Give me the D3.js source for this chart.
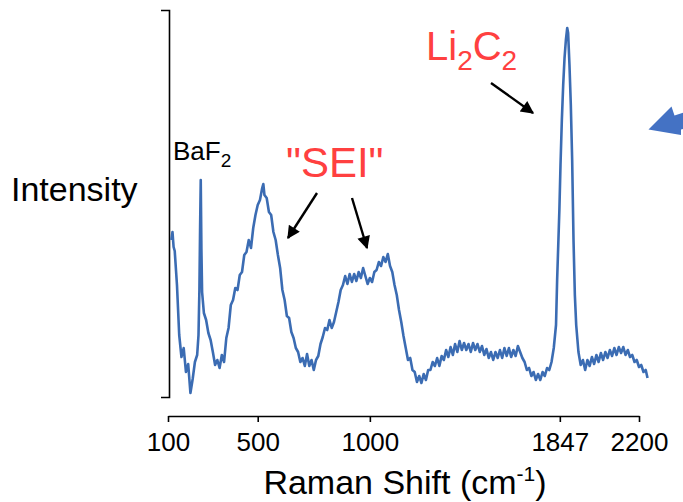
<!DOCTYPE html>
<html>
<head>
<meta charset="utf-8">
<script src="https://cdn.jsdelivr.net/npm/d3@7"></script>
<style>
  html, body { margin: 0; padding: 0; background: #fff; }
  svg { display: block; font-family: "Liberation Sans", Arial, sans-serif; }
</style>
</head>
<body>
<div id="chart"></div>
<script>
// Raman spectrum (arbitrary intensity units)
const ramanShift = [
  115, 120, 125, 130, 140, 150, 160, 170, 180, 190, 200, 210, 220, 230, 236, 240, 243, 246, 249, 252,
  260, 270, 280, 290, 300, 310, 320, 330, 340, 350, 360, 370, 380, 390, 400, 410, 420, 430, 440, 450,
  460, 470, 480, 490, 500, 510, 520, 525, 530, 540, 550, 560, 570, 580, 590, 600, 610, 620, 630, 640,
  650, 660, 670, 680, 690, 700, 710, 720, 730, 740, 750, 760, 770, 780, 790, 800, 810, 820, 830, 840,
  850, 860, 870, 880, 890, 900, 910, 920, 930, 940, 950, 960, 970, 980, 990, 1000, 1010, 1020, 1030, 1040,
  1050, 1060, 1070, 1080, 1090, 1100, 1110, 1120, 1130, 1140, 1150, 1160, 1170, 1180, 1190, 1200, 1210, 1220, 1230, 1240,
  1250, 1260, 1270, 1280, 1290, 1300, 1310, 1320, 1330, 1340, 1350, 1360, 1370, 1380, 1390, 1400, 1410, 1420, 1430, 1440,
  1450, 1460, 1470, 1480, 1490, 1500, 1510, 1520, 1530, 1540, 1550, 1560, 1570, 1580, 1590, 1600, 1610, 1620, 1630, 1640,
  1650, 1660, 1670, 1680, 1690, 1700, 1710, 1720, 1730, 1740, 1750, 1760, 1770, 1780, 1790, 1800, 1810, 1820, 1830, 1835,
  1840, 1845, 1850, 1856, 1862, 1868, 1874, 1880, 1884, 1890, 1896, 1902, 1908, 1914, 1920, 1930, 1940, 1950, 1960, 1970,
  1980, 1990, 2000, 2010, 2020, 2030, 2040, 2050, 2060, 2070, 2080, 2090, 2100, 2110, 2120, 2130, 2140, 2150, 2160, 2170,
  2180, 2190, 2200, 2210, 2220, 2230, 2238
];
const intensity = [
  157, 165, 150, 146, 112, 62, 40, 49, 25, 33, 4, 18, 35, 42, 62, 107, 167, 217, 147, 105,
  84, 77, 64, 57, 45, 32, 37, 29, 42, 35, 59, 69, 92, 97, 109, 107, 122, 125, 142, 145,
  157, 149, 169, 182, 192, 197, 209, 213, 202, 199, 185, 182, 165, 157, 142, 129, 107, 97, 81, 79,
  65, 59, 49, 45, 35, 39, 31, 43, 31, 37, 27, 37, 41, 53, 60, 69, 67, 77, 69, 75,
  85, 95, 107, 112, 121, 113, 123, 115, 123, 116, 125, 119, 129, 121, 113, 119, 115, 125, 127, 135,
  131, 140, 135, 143, 131, 125, 112, 102, 87, 75, 61, 49, 37, 39, 27, 25, 15, 21, 14, 23,
  17, 27, 27, 35, 31, 39, 31, 41, 37, 47, 40, 50, 42, 53, 45, 56, 47, 54, 47, 53,
  45, 54, 47, 53, 45, 51, 42, 48, 39, 45, 37, 45, 39, 47, 39, 49, 41, 49, 40, 47,
  41, 51, 45, 39, 35, 27, 29, 21, 25, 17, 23, 17, 25, 21, 29, 27, 35, 49, 72, 117,
  152, 187, 232, 277, 312, 339, 357, 369, 364, 332, 292, 237, 157, 102, 72, 45, 32, 37, 27, 37,
  31, 40, 33, 42, 35, 44, 37, 45, 39, 47, 41, 49, 42, 50, 44, 50, 42, 47, 40, 42,
  35, 37, 30, 32, 25, 27, 19
];
const xTicks = [100, 500, 1000, 1847, 2200];
const xDomain = [100, 2200];
const yDomain = [0, 387];

const width = 683, height = 502;
const lineColor = "#3b6cb3";
const labelRed = "#ff4040";

const svg = d3.select("#chart").append("svg")
  .attr("width", width)
  .attr("height", height);

const defs = svg.append("defs");
defs.append("marker")
  .attr("id", "head")
  .attr("viewBox", "0 0 10 10")
  .attr("refX", 9)
  .attr("refY", 5)
  .attr("markerUnits", "userSpaceOnUse")
  .attr("markerWidth", 15)
  .attr("markerHeight", 13)
  .attr("orient", "auto")
  .append("path")
  .attr("d", "M0,0L10,5L0,10Z")
  .attr("fill", "#000");

const x = d3.scaleLinear().domain(xDomain).range([168, 639]);
const y = d3.scaleLinear().domain(yDomain).range([397, 10]);

// x axis
const xAxis = svg.append("g")
  .attr("transform", "translate(0,416)")
  .call(d3.axisBottom(x).tickValues(xTicks).tickFormat(d3.format("d")).tickSize(6).tickSizeOuter(0));
xAxis.select(".domain").attr("stroke", "#000").attr("stroke-width", 1.6);
xAxis.selectAll(".tick line").attr("stroke", "#000").attr("stroke-width", 1.6);
xAxis.selectAll(".tick text")
  .attr("y", 0).attr("dy", 35)
  .attr("fill", "#000")
  .style("font-size", "26px")
  .style("font-family", "Liberation Sans, Arial, sans-serif");

// y axis: bare bracket, no ticks
const yAxis = svg.append("g")
  .attr("transform", "translate(169,0)")
  .call(d3.axisLeft(y).tickValues([]).tickSizeOuter(8));
yAxis.select(".domain").attr("stroke", "#000").attr("stroke-width", 1.6);

// spectrum
const pts = ramanShift.map((s, i) => [s, intensity[i]]);
const line = d3.line().x(d => x(d[0])).y(d => y(d[1]));
svg.append("path")
  .datum(pts)
  .attr("d", line)
  .attr("fill", "none")
  .attr("stroke", lineColor)
  .attr("stroke-width", 2.6)
  .attr("stroke-linejoin", "round");

// axis titles
svg.append("text")
  .attr("x", 11).attr("y", 201)
  .style("font-size", "34px")
  .text("Intensity");

const xt = svg.append("text")
  .attr("x", 405).attr("y", 494)
  .attr("text-anchor", "middle")
  .style("font-size", "34px");
xt.append("tspan").text("Raman Shift (cm");
xt.append("tspan").attr("dy", -13).style("font-size", "21px").text("-1");
xt.append("tspan").attr("dy", 13).text(")");

// peak labels
const baf = svg.append("text").attr("x", 173).attr("y", 160).style("font-size", "26px");
baf.append("tspan").text("BaF");
baf.append("tspan").attr("dy", 7).style("font-size", "19px").text("2");

svg.append("text")
  .attr("x", 286).attr("y", 177)
  .attr("fill", labelRed)
  .style("font-size", "42px")
  .text("\"SEI\"");

const li = svg.append("text").attr("x", 426).attr("y", 60).attr("fill", labelRed).style("font-size", "40px");
li.append("tspan").text("Li");
li.append("tspan").attr("dy", 10).style("font-size", "28px").text("2");
li.append("tspan").attr("dy", -10).text("C");
li.append("tspan").attr("dy", 10).style("font-size", "28px").text("2");

// black pointer arrows
const arrows = [
  [[317, 193], [288, 238]],
  [[352, 198], [367, 248]],
  [[491, 83], [533, 113]]
];
svg.selectAll("line.pointer")
  .data(arrows)
  .join("line")
  .attr("class", "pointer")
  .attr("x1", d => d[0][0]).attr("y1", d => d[0][1])
  .attr("x2", d => d[1][0]).attr("y2", d => d[1][1])
  .attr("stroke", "#000")
  .attr("stroke-width", 2.4)
  .attr("marker-end", "url(#head)");

// big blue block arrow, cut by the right edge
svg.append("path")
  .attr("d", "M648.5,129.5L671.5,106.5L674.5,115.5L700,107L700,124L681,129.5L681,135Z")
  .attr("fill", "#4472c4");
</script>
</body>
</html>
